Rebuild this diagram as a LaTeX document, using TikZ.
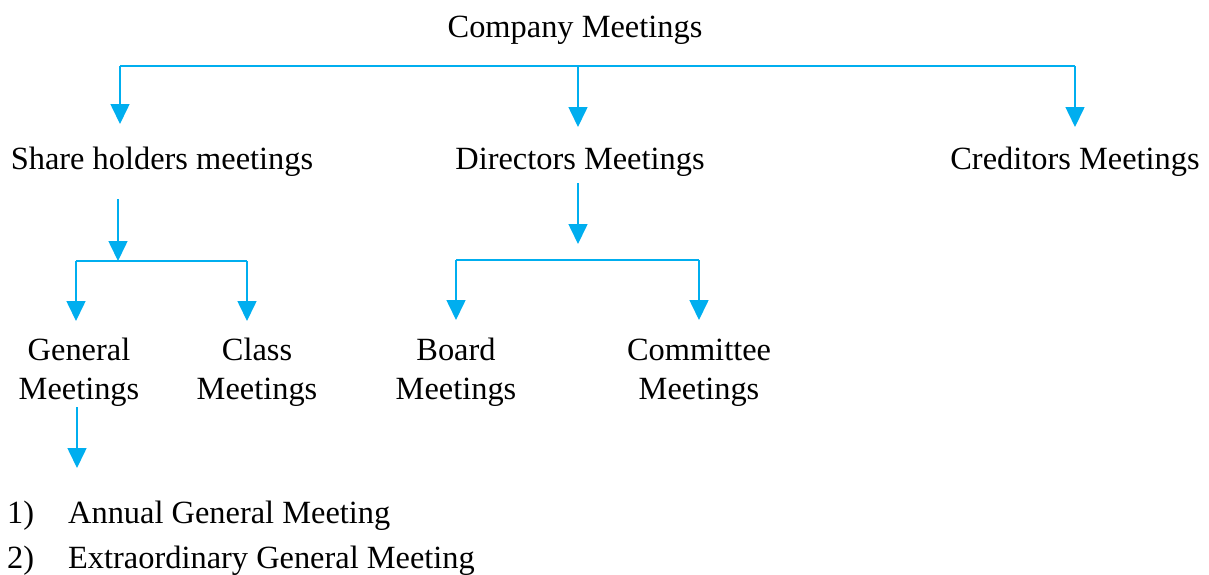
\documentclass[tikz,border=0pt]{standalone}
\usepackage{fontspec}
\setmainfont{Liberation Serif}
\usetikzlibrary{arrows.meta}
\definecolor{arrowblue}{HTML}{00AEEF}
\tikzset{
  lbl/.style={inner sep=0pt, anchor=base, align=center, font=\fontsize{32.4}{38.5}\selectfont},
  lbll/.style={inner sep=0pt, anchor=base west, font=\fontsize{32.4}{38.5}\selectfont},
  conn/.style={draw=arrowblue, line width=1.6pt},
  arr/.style={conn, -{Triangle[width=19pt,length=20pt]}, arrowblue},
}
\begin{document}
\begin{tikzpicture}[x=1pt,y=-1pt]
\useasboundingbox (0,0) rectangle (1209,574);
% texts
\node[lbl] (cm) at (575,37) {Company Meetings};
\node[lbl] (sh) at (162,169) {Share holders meetings};
\node[lbl] (dm) at (580,169) {Directors Meetings};
\node[lbl] (cr) at (1075,169) {Creditors Meetings};
\node[lbl] (gm) at (79,399) {General\\Meetings};
\node[lbl] (cl) at (257,399) {Class\\Meetings};
\node[lbl] (bm) at (456,399) {Board\\Meetings};
\node[lbl] (co) at (699,399) {Committee\\Meetings};
\node[lbll] (n1) at (7,523) {1)};
\node[lbll] (t1) at (68,523) {Annual General Meeting};
\node[lbll] (n2) at (7,568) {2)};
\node[lbll] (t2) at (68,568) {Extraordinary General Meeting};
% coordinates
\coordinate (busL) at (120,66);
\coordinate (busM) at (578,66);
\coordinate (busR) at (1075,66);
\coordinate (tipSH) at (120,124);
\coordinate (tipDM) at (578,127);
\coordinate (tipCR) at (1075,127);
\coordinate (shS) at (118,199);
\coordinate (shB) at (118,261);
\coordinate (shBL) at (76,261);
\coordinate (shBR) at (247,261);
\coordinate (tipGM) at (76,321);
\coordinate (tipCL) at (247,321);
\coordinate (dmS) at (578,183);
\coordinate (dmT) at (578,244);
\coordinate (dmBL) at (456,260);
\coordinate (dmBR) at (699,260);
\coordinate (tipBM) at (456,320);
\coordinate (tipCO) at (699,320);
\coordinate (gmS) at (77,407);
\coordinate (gmT) at (77,468);
% connectors
\draw[conn] (busL) -- (busR);
\draw[arr] (busL) -- (tipSH);
\draw[arr] (busM) -- (tipDM);
\draw[arr] (busR) -- (tipCR);
\draw[arr] (shS) -- (shB);
\draw[conn] (shBL) -- (shBR);
\draw[arr] (shBL) -- (tipGM);
\draw[arr] (shBR) -- (tipCL);
\draw[arr] (dmS) -- (dmT);
\draw[conn] (dmBL) -- (dmBR);
\draw[arr] (dmBL) -- (tipBM);
\draw[arr] (dmBR) -- (tipCO);
\draw[arr] (gmS) -- (gmT);
\end{tikzpicture}
\end{document}
